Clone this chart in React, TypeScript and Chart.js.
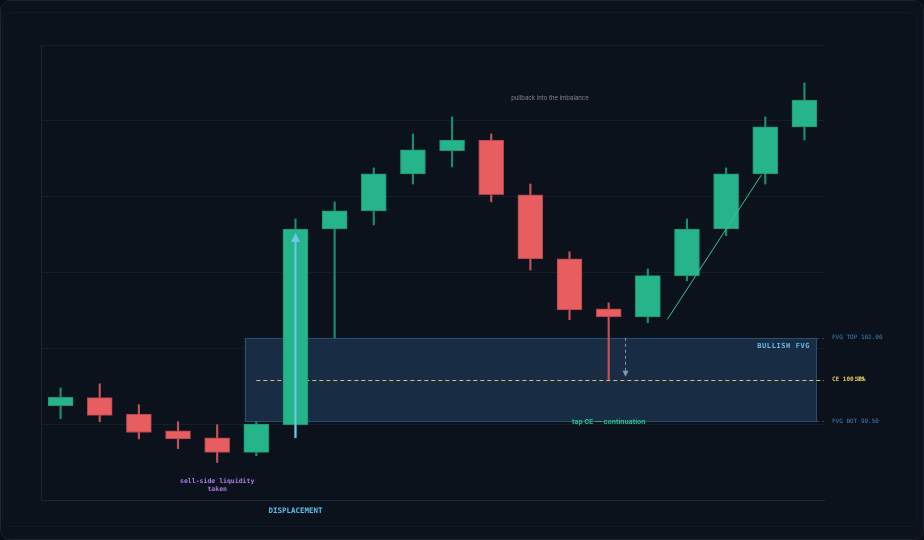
import React, { useEffect, useRef } from 'react';
import { Chart, registerables } from 'chart.js';

Chart.register(...registerables);

// ---- data ----
const labels = ['1', '2', '3', '4', '5', '6', '7', '8', '9', '10', '11', '12', '13', '14', '15', '16', '17', '18', '19', '20'];
const opens = [99.98, 100.22, 99.73, 99.23, 99.02, 98.59, 99.41, 105.24, 105.78, 106.88, 107.57, 107.89, 106.26, 104.35, 102.86, 102.62, 103.85, 105.24, 106.88, 108.28];
const highs = [100.51, 100.63, 100.01, 99.5, 99.41, 99.5, 105.54, 106.05, 107.06, 108.07, 108.58, 108.07, 106.58, 104.56, 103.04, 104.05, 105.54, 107.06, 108.58, 109.59];
const lows = [99.59, 99.5, 98.99, 98.7, 98.29, 98.49, 99.02, 102.0, 105.36, 106.58, 107.09, 106.05, 104.02, 102.54, 100.75, 102.45, 103.7, 105.04, 106.58, 107.89];
const closes = [100.23, 99.69, 99.18, 98.99, 98.59, 99.43, 105.24, 105.78, 106.88, 107.6, 107.89, 106.26, 104.35, 102.83, 102.62, 103.85, 105.24, 106.88, 108.28, 109.08];

const Y_MIN = 97.17;
const Y_MAX = 110.72;

const FVG_TOP = 102.0;
const FVG_BOT = 99.5;
const FVG_CE = 100.75;
const FVG_START = 5;
const FVG_END = 19;

const DISPLACEMENT_INDEX = 6;
const TAP_INDEX = 14;
// trend line from [x, y] to [x, y]
const trendFrom = [15.5, 102.55];
const trendTo = [17.9, 106.85];
// pullback dotted arrow
const pullbackArrowX = 14.41;

const GREEN = '#26b48a';
const GREEN_BORDER = '#1f9472';
const GREEN_WICK = '#1c8e6c';
const RED = '#e85d5f';
const RED_BORDER = '#a8454c';
const RED_WICK = '#c5525b';

const MONO = '"DejaVu Sans Mono", "Liberation Mono", monospace';
const SANS = 'Inter, "Noto Sans", sans-serif';

const isUp = opens.map((o, i) => closes[i] >= o);

const annotationPlugin = {
  id: 'ictAnnotations',
  beforeDatasetsDraw(chart: any) {
    const { ctx, chartArea: ca, scales } = chart;
    const x = scales.x;
    const y = scales.y;
    const x0 = x.getPixelForValue(0);
    const step = x.getPixelForValue(1) - x0;
    const px = (v: number) => x0 + v * step;

    const l = px(FVG_START - 0.3);
    const r = px(FVG_END + 0.3);
    const t = y.getPixelForValue(FVG_TOP);
    const b = y.getPixelForValue(FVG_BOT);
    const ce = y.getPixelForValue(FVG_CE);

    ctx.save();
    ctx.fillStyle = '#182c44';
    ctx.fillRect(l, t, r - l, b - t);
    ctx.strokeStyle = '#2b4d70';
    ctx.lineWidth = 1;
    ctx.strokeRect(Math.round(l) + 0.5, Math.round(t) + 0.5, Math.round(r - l) - 1, Math.round(b - t) - 1);

    // side dashes to right edge
    ctx.setLineDash([3, 3]);
    ctx.beginPath();
    ctx.moveTo(r, Math.round(t) + 0.5);
    ctx.lineTo(ca.right, Math.round(t) + 0.5);
    ctx.moveTo(r, Math.round(b) - 0.5);
    ctx.lineTo(ca.right, Math.round(b) - 0.5);
    ctx.stroke();

    // CE dashed line
    ctx.strokeStyle = '#d8c07a';
    ctx.setLineDash([4, 3]);
    ctx.beginPath();
    ctx.moveTo(px(FVG_START), Math.round(ce) + 0.5);
    ctx.lineTo(ca.right, Math.round(ce) + 0.5);
    ctx.stroke();
    ctx.restore();
  },
  afterDatasetsDraw(chart: any) {
    const { ctx, chartArea: ca, scales } = chart;
    const x = scales.x;
    const y = scales.y;
    const x0 = x.getPixelForValue(0);
    const step = x.getPixelForValue(1) - x0;
    const px = (v: number) => x0 + v * step;

    const r = px(FVG_END + 0.3);
    const t = y.getPixelForValue(FVG_TOP);
    const b = y.getPixelForValue(FVG_BOT);
    const ce = y.getPixelForValue(FVG_CE);

    ctx.save();

    // displacement arrow
    const dx = px(DISPLACEMENT_INDEX);
    const dLow = y.getPixelForValue(lows[DISPLACEMENT_INDEX]);
    const dTip = y.getPixelForValue(closes[DISPLACEMENT_INDEX]) + 4;
    ctx.strokeStyle = '#6cc6f0';
    ctx.fillStyle = '#6cc6f0';
    ctx.lineWidth = 2;
    ctx.beginPath();
    ctx.moveTo(dx, dLow);
    ctx.lineTo(dx, dTip + 8);
    ctx.stroke();
    ctx.beginPath();
    ctx.moveTo(dx, dTip);
    ctx.lineTo(dx - 4.5, dTip + 9);
    ctx.lineTo(dx + 4.5, dTip + 9);
    ctx.closePath();
    ctx.fill();

    // pullback dotted arrow
    const ax = px(pullbackArrowX);
    ctx.strokeStyle = '#8797b0';
    ctx.fillStyle = '#8797b0';
    ctx.lineWidth = 1;
    ctx.setLineDash([3, 3]);
    ctx.beginPath();
    ctx.moveTo(Math.round(ax) + 0.5, t);
    ctx.lineTo(Math.round(ax) + 0.5, ce - 8);
    ctx.stroke();
    ctx.setLineDash([]);
    ctx.beginPath();
    ctx.moveTo(Math.round(ax) + 0.5, ce - 3);
    ctx.lineTo(Math.round(ax) - 2.5, ce - 9);
    ctx.lineTo(Math.round(ax) + 3.5, ce - 9);
    ctx.closePath();
    ctx.fill();

    // trend line
    ctx.strokeStyle = '#2fc79b';
    ctx.lineWidth = 1;
    ctx.beginPath();
    ctx.moveTo(px(trendFrom[0]), y.getPixelForValue(trendFrom[1]));
    ctx.lineTo(px(trendTo[0]), y.getPixelForValue(trendTo[1]));
    ctx.stroke();

    // texts
    ctx.textBaseline = 'middle';
    ctx.textAlign = 'center';

    ctx.fillStyle = '#7d8797';
    ctx.font = `6px ${SANS}`;
    ctx.fillText('pullback into the imbalance', px(12.5), y.getPixelForValue(109.14));

    ctx.fillStyle = '#a97be0';
    ctx.font = `bold 6.5px ${MONO}`;
    const sx = px(4);
    const sy = y.getPixelForValue(97.74);
    ctx.fillText('sell-side liquidity', sx, sy);
    ctx.fillText('taken', sx, sy + 8);

    ctx.fillStyle = '#5cc0ee';
    ctx.font = `bold 7.5px ${MONO}`;
    ctx.fillText('DISPLACEMENT', dx, ca.bottom + 11);

    ctx.fillStyle = '#2ec08f';
    ctx.font = `bold 6.8px ${SANS}`;
    ctx.fillText('tap CE \u2014 continuation', px(TAP_INDEX), b);

    ctx.textAlign = 'right';
    ctx.fillStyle = '#6fb8e8';
    ctx.font = `bold 7px ${MONO}`;
    (ctx as any).letterSpacing = '0.6px';
    ctx.fillText('BULLISH FVG', r - 6, t + 8);
    (ctx as any).letterSpacing = '0px';

    ctx.textAlign = 'left';
    const lx = ca.right + 8;
    ctx.font = `6px ${MONO}`;
    ctx.fillStyle = '#3f83bd';
    ctx.fillText(`FVG TOP ${FVG_TOP.toFixed(2)}`, lx, t);
    ctx.fillText(`FVG BOT ${FVG_BOT.toFixed(2)}`, lx, b);
    ctx.fillStyle = '#e3c15a';
    ctx.font = `bold 6px ${MONO}`;
    const ceText = `CE ${FVG_CE.toFixed(2)}`;
    ctx.fillText(ceText, lx, ce);
    const ceW = ctx.measureText(ceText).width;
    ctx.textAlign = 'right';
    ctx.fillText('50%', lx + ceW + 1, ce);

    ctx.restore();
  },
};

export default function App() {
  const canvasRef = useRef<HTMLCanvasElement | null>(null);

  useEffect(() => {
    const canvas = canvasRef.current;
    if (!canvas) return;
    const bodyData = opens.map((o, i) => [Math.min(o, closes[i]), Math.max(o, closes[i])]);
    const wickData = lows.map((l, i) => [l, highs[i]]);

    const chart = new Chart(canvas, {
      type: 'bar',
      data: {
        labels,
        datasets: [
          {
            label: 'body',
            data: bodyData as any,
            backgroundColor: isUp.map((u) => (u ? GREEN : RED)),
            borderColor: isUp.map((u) => (u ? GREEN_BORDER : RED_BORDER)),
            borderWidth: 1,
            borderSkipped: false,
            barThickness: 25,
            grouped: false,
            order: 0,
          } as any,
          {
            label: 'wick',
            data: wickData as any,
            backgroundColor: isUp.map((u) => (u ? GREEN_WICK : RED_WICK)),
            borderWidth: 0,
            barThickness: 1.5,
            grouped: false,
            order: 1,
          } as any,
        ],
      },
      options: {
        responsive: false,
        maintainAspectRatio: false,
        devicePixelRatio: 1,
        animation: false,
        layout: { padding: { left: 41, top: 45, right: 100, bottom: 40 } },
        plugins: {
          legend: { display: false },
          tooltip: { enabled: false },
        },
        scales: {
          x: {
            type: 'category',
            offset: true,
            grid: { display: false, drawTicks: false },
            border: { display: true, color: '#1b2939', width: 1 },
            ticks: { display: false },
          },
          y: {
            type: 'linear',
            min: Y_MIN,
            max: Y_MAX,
            grid: { color: '#131e2a', drawTicks: false, lineWidth: 1 },
            border: { display: true, color: '#18242f', width: 1 },
            ticks: { display: false, count: 7 },
          },
        },
      },
      plugins: [annotationPlugin],
    });
    return () => chart.destroy();
  }, []);

  return (
    <div style={{ position: 'absolute', left: 0, top: 0, width: 924, height: 540, background: '#080c12' }}>
      <div
        style={{
          position: 'absolute',
          left: 0,
          top: 0,
          width: 924,
          height: 540,
          boxSizing: 'border-box',
          borderRadius: 10,
          border: '1px solid #1a2432',
          background: '#0b121b',
        }}
      />
      <div
        style={{
          position: 'absolute',
          left: 2,
          top: 12,
          width: 916,
          height: 515,
          boxSizing: 'border-box',
          borderRadius: 8,
          border: '1px solid #101a25',
        }}
      />
      <canvas
        ref={canvasRef}
        width={924}
        height={540}
        style={{ position: 'absolute', left: 0, top: 0, width: 924, height: 540 }}
      />
    </div>
  );
}
